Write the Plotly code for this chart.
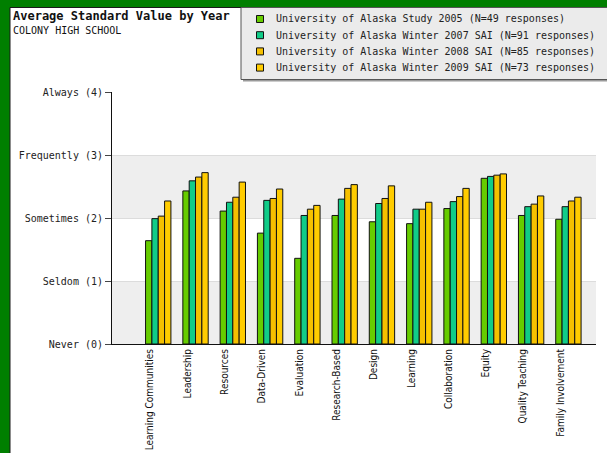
import plotly.graph_objects as go

# ---------------- data ----------------
categories = ["Learning Communities", "Leadership", "Resources", "Data-Driven",
              "Evaluation", "Research-Based", "Design", "Learning",
              "Collaboration", "Equity", "Quality Teaching", "Family Involvement"]

series_names = ["University of Alaska Study 2005 (N=49 responses)",
                "University of Alaska Winter 2007 SAI (N=91 responses)",
                "University of Alaska Winter 2008 SAI (N=85 responses)",
                "University of Alaska Winter 2009 SAI (N=73 responses)"]

s2005 = [1.64, 2.43, 2.11, 1.76, 1.36, 2.04, 1.94, 1.91, 2.15, 2.63, 2.04, 1.98]
s2007 = [1.99, 2.59, 2.25, 2.28, 2.04, 2.30, 2.23, 2.14, 2.26, 2.66, 2.18, 2.18]
s2008 = [2.03, 2.65, 2.33, 2.31, 2.14, 2.47, 2.31, 2.14, 2.34, 2.68, 2.22, 2.27]
s2009 = [2.27, 2.72, 2.57, 2.46, 2.20, 2.53, 2.51, 2.25, 2.47, 2.70, 2.35, 2.33]

y_tick_vals = [0, 1, 2, 3, 4]
y_tick_text = ["Never (0)", "Seldom (1)", "Sometimes (2)", "Frequently (3)", "Always (4)"]

title_text = "Average Standard Value by Year"
subtitle_text = "COLONY HIGH SCHOOL"

# ---------------- styles ----------------
colors = ["#66cc00", "#11cc88", "#f5c000", "#ffcc00"]
MONO = "DejaVu Sans Mono"
NARROW = "Liberation Sans Narrow, DejaVu Sans Condensed, Arial Narrow, sans-serif"

W, H = 607, 453
L, R, T, B = 112, 596, 92, 344  # plot area in pixels


def px(xp):
    return (xp - L) / (R - L)


def py(yp):
    return (B - yp) / (B - T)


fig = go.Figure()
for name, vals, col in zip(series_names, [s2005, s2007, s2008, s2009], colors):
    fig.add_trace(go.Bar(x=categories, y=vals, name=name, showlegend=False,
                         marker=dict(color=col, line=dict(color="#111111", width=1))))

shapes = []
# white page over green frame
shapes.append(dict(type="rect", xref="paper", yref="paper", layer="below",
                   x0=px(10), x1=px(W + 5), y0=py(H + 5), y1=py(7.5),
                   fillcolor="white", line=dict(color="#1a1a1a", width=1)))
# alternating bands
for lo, hi in [(0, 1), (2, 3)]:
    shapes.append(dict(type="rect", xref="paper", yref="y", layer="below",
                       x0=0, x1=1, y0=lo, y1=hi, fillcolor="#eeeeee", line=dict(width=0)))
# legend box shadow + box
shapes.append(dict(type="rect", xref="paper", yref="paper", layer="above",
                   x0=px(243), x1=px(W + 5), y0=py(81.5), y1=py(9),
                   fillcolor="#9a9a9a", line=dict(width=0)))
shapes.append(dict(type="rect", xref="paper", yref="paper", layer="above",
                   x0=px(241), x1=px(W + 5), y0=py(79.5), y1=py(7.5),
                   fillcolor="#ebebeb", line=dict(color="#555555", width=1)))

annotations = []
annotations.append(dict(text="<b>" + title_text + "</b>", xref="paper", yref="paper",
                        x=px(11), y=py(16), xanchor="left", yanchor="middle", showarrow=False,
                        font=dict(family=MONO, size=12, color="#111111")))
annotations.append(dict(text=subtitle_text, xref="paper", yref="paper",
                        x=px(11), y=py(31), xanchor="left", yanchor="middle", showarrow=False,
                        font=dict(family=MONO, size=10, color="#111111")))

for k, (name, col) in enumerate(zip(series_names, colors)):
    yc = 19 + 16.2 * k
    shapes.append(dict(type="rect", xref="paper", yref="paper", layer="above",
                       x0=px(256.5), x1=px(263.5), y0=py(yc + 3.5), y1=py(yc - 3.5),
                       fillcolor=col, line=dict(color="#111111", width=1)))
    annotations.append(dict(text=name, xref="paper", yref="paper",
                            x=px(274), y=py(yc), xanchor="left", yanchor="middle",
                            showarrow=False,
                            font=dict(family=MONO, size=10, color="#222222")))

fig.update_layout(
    width=W, height=H,
    margin=dict(l=L, r=W - R, t=T, b=H - B, pad=0, autoexpand=False),
    paper_bgcolor="#007f00",
    plot_bgcolor="white",
    barmode="group", bargap=0.32, bargroupgap=0,
    shapes=shapes, annotations=annotations,
    showlegend=False,
    xaxis=dict(type="category", range=[-1.24, 11.74], showgrid=False, automargin=False,
               showline=True, linecolor="#111111", linewidth=1, ticks="",
               tickangle=-90, ticklabelshift=-8, ticklabelstandoff=0,
               tickfont=dict(family=NARROW, size=10, color="#111111")),
    yaxis=dict(range=[0, 4], tickvals=y_tick_vals, ticktext=y_tick_text, automargin=False,
               showgrid=True, gridcolor="#dcdcdc", gridwidth=1,
               showline=True, linecolor="#111111", linewidth=1,
               ticks="outside", ticklen=6, tickcolor="#444444",
               tickfont=dict(family=MONO, size=10, color="#222222"),
               zeroline=False),
)

fig.write_html("out.html")
